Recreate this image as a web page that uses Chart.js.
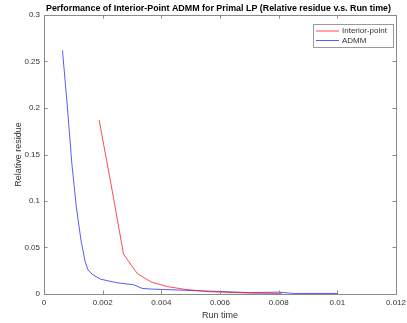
<!DOCTYPE html>
<html>
<head>
<meta charset="utf-8">
<script src="https://cdn.jsdelivr.net/npm/chart.js@4.4.1/dist/chart.umd.min.js"></script>
<style>
  html, body { margin: 0; padding: 0; background: #fff; }
</style>
</head>
<body>
<canvas id="chart" width="407" height="323"></canvas>
<script>
// テキスト
const chartTitle = 'Performance of Interior-Point ADMM for Primal LP (Relative residue v.s. Run time)';
const xLabel = 'Run time';
const yLabel = 'Relative residue';
const seriesNames = ['Interior-point', 'ADMM'];

// Interior-point (赤)
const ipTime    = [0.00188, 0.00232, 0.00271, 0.00318, 0.00365, 0.0042, 0.0048, 0.0056, 0.0070, 0.0081];
const ipResidue = [0.187,   0.112,   0.043,   0.022,   0.013,   0.008,  0.005,  0.0025, 0.001,  0.0005];

// ADMM (青)
const admmTime    = [0.00063, 0.00080, 0.00095, 0.00110, 0.00126, 0.00140, 0.00150, 0.00165, 0.00192, 0.0025, 0.00305, 0.00335, 0.0036, 0.0048, 0.0060, 0.0070, 0.0080, 0.0085, 0.0100];
const admmResidue = [0.262,   0.200,   0.140,   0.094,   0.058,   0.035,   0.026,   0.021,   0.016,   0.012,  0.0100,  0.0060,  0.0054, 0.0040, 0.0027, 0.0015, 0.0020, 0.0006, 0.0006];

// 目盛り
const xTicks = [0, 0.002, 0.004, 0.006, 0.008, 0.01, 0.012];
const xTickLabels = ['0', '0.002', '0.004', '0.006', '0.008', '0.01', '0.012'];
const yTicks = [0, 0.05, 0.1, 0.15, 0.2, 0.25, 0.3];
const yTickLabels = ['0', '0.05', '0.1', '0.15', '0.2', '0.25', '0.3'];

const lineColors = ['rgba(255, 0, 0, 0.7)', 'rgba(0, 0, 255, 0.65)'];
const axisColor = '#8a8a8a';
const textColor = '#333333';
const fontFamily = '"Liberation Sans", Arial, Helvetica, sans-serif';

function toPoints(xs, ys) {
    return xs.map((x, i) => ({ x: x, y: ys[i] }));
}

// MATLAB風の枠・内向き目盛り・タイトル・凡例を描く
const matlabFrame = {
    id: 'matlabFrame',
    afterDraw(chart) {
        const ctx = chart.ctx;
        const { left, right, top, bottom } = chart.chartArea;
        const xs = chart.scales.x;
        const ys = chart.scales.y;
        ctx.save();
        ctx.strokeStyle = axisColor;
        ctx.lineWidth = 1;
        ctx.strokeRect(Math.round(left) + 0.5, Math.round(top) + 0.5,
            Math.round(right - left), Math.round(bottom - top));
        ctx.beginPath();
        xTicks.forEach(v => {
            const px = Math.round(xs.getPixelForValue(v)) + 0.5;
            ctx.moveTo(px, bottom); ctx.lineTo(px, bottom - 3.5);
            ctx.moveTo(px, top); ctx.lineTo(px, top + 3.5);
        });
        yTicks.forEach(v => {
            const py = Math.round(ys.getPixelForValue(v)) + 0.5;
            ctx.moveTo(left, py); ctx.lineTo(left + 3.5, py);
            ctx.moveTo(right, py); ctx.lineTo(right - 3.5, py);
        });
        ctx.stroke();

        // タイトル (元の図は横に少し縮んでいるので幅を合わせる)
        ctx.fillStyle = '#000';
        ctx.font = 'bold 9.6px ' + fontFamily;
        ctx.textAlign = 'center';
        ctx.textBaseline = 'middle';
        const tw = ctx.measureText(chartTitle).width;
        const sx = Math.min(1, 345 / tw);
        ctx.save();
        ctx.translate(218.5, 8);
        ctx.scale(sx, 1);
        ctx.fillText(chartTitle, 0, 0);
        ctx.restore();

        // 凡例
        const bx = right - 83, by = top + 9, bw = 80, bh = 23;
        ctx.fillStyle = '#fff';
        ctx.fillRect(bx, by, bw, bh);
        ctx.strokeStyle = '#9a9a9a';
        ctx.strokeRect(Math.round(bx) + 0.5, Math.round(by) + 0.5, bw, bh);
        ctx.font = '8px ' + fontFamily;
        ctx.textAlign = 'left';
        seriesNames.forEach((name, i) => {
            const ly = by + 7 + i * 9.5;
            ctx.strokeStyle = lineColors[i];
            ctx.beginPath();
            ctx.moveTo(bx + 3, ly); ctx.lineTo(bx + 26, ly);
            ctx.stroke();
            ctx.fillStyle = textColor;
            ctx.fillText(name, bx + 29, ly);
        });
        ctx.restore();
    }
};

function createChart() {
    const ctx = document.getElementById('chart').getContext('2d');
    new Chart(ctx, {
        type: 'scatter',
        data: {
            datasets: [{
                label: seriesNames[0],
                data: toPoints(ipTime, ipResidue),
                showLine: true,
                borderColor: lineColors[0],
                borderWidth: 1,
                pointRadius: 0,
                tension: 0
            }, {
                label: seriesNames[1],
                data: toPoints(admmTime, admmResidue),
                showLine: true,
                borderColor: lineColors[1],
                borderWidth: 1,
                pointRadius: 0,
                tension: 0
            }]
        },
        plugins: [matlabFrame],
        options: {
            responsive: false,
            animation: false,
            devicePixelRatio: 1,
            layout: { padding: { top: 15, right: 11, left: 0, bottom: 0 } },
            plugins: {
                legend: { display: false },
                title: { display: false },
                tooltip: { enabled: false }
            },
            scales: {
                x: {
                    type: 'linear',
                    min: 0,
                    max: 0.012,
                    grid: { display: false, drawTicks: false },
                    border: { display: false },
                    afterBuildTicks: scale => { scale.ticks = xTicks.map(v => ({ value: v })); },
                    afterFit: scale => {
                        scale.height = 29;
                        scale.paddingLeft = 0;
                        scale.paddingRight = 0;
                    },
                    ticks: {
                        padding: 4,
                        maxRotation: 0,
                        autoSkip: false,
                        color: textColor,
                        font: { size: 8, family: fontFamily },
                        callback: (v, i) => xTickLabels[i]
                    },
                    title: {
                        display: true,
                        text: xLabel,
                        color: textColor,
                        font: { size: 9, family: fontFamily },
                        padding: { top: 0, bottom: 1.6 }
                    }
                },
                y: {
                    type: 'linear',
                    min: 0,
                    max: 0.3,
                    grid: { display: false, drawTicks: false },
                    border: { display: false },
                    afterBuildTicks: scale => { scale.ticks = yTicks.map(v => ({ value: v })); },
                    afterFit: scale => {
                        scale.width = 44;
                        scale.paddingTop = 0;
                        scale.paddingBottom = 0;
                    },
                    ticks: {
                        padding: 4,
                        autoSkip: false,
                        color: textColor,
                        font: { size: 8, family: fontFamily },
                        callback: (v, i) => yTickLabels[i]
                    },
                    title: {
                        display: true,
                        text: yLabel,
                        color: textColor,
                        font: { size: 9, family: fontFamily },
                        padding: { top: 13.6, bottom: 0 }
                    }
                }
            }
        }
    });
}

window.onload = function() {
    createChart();
};
</script>
</body>
</html>
